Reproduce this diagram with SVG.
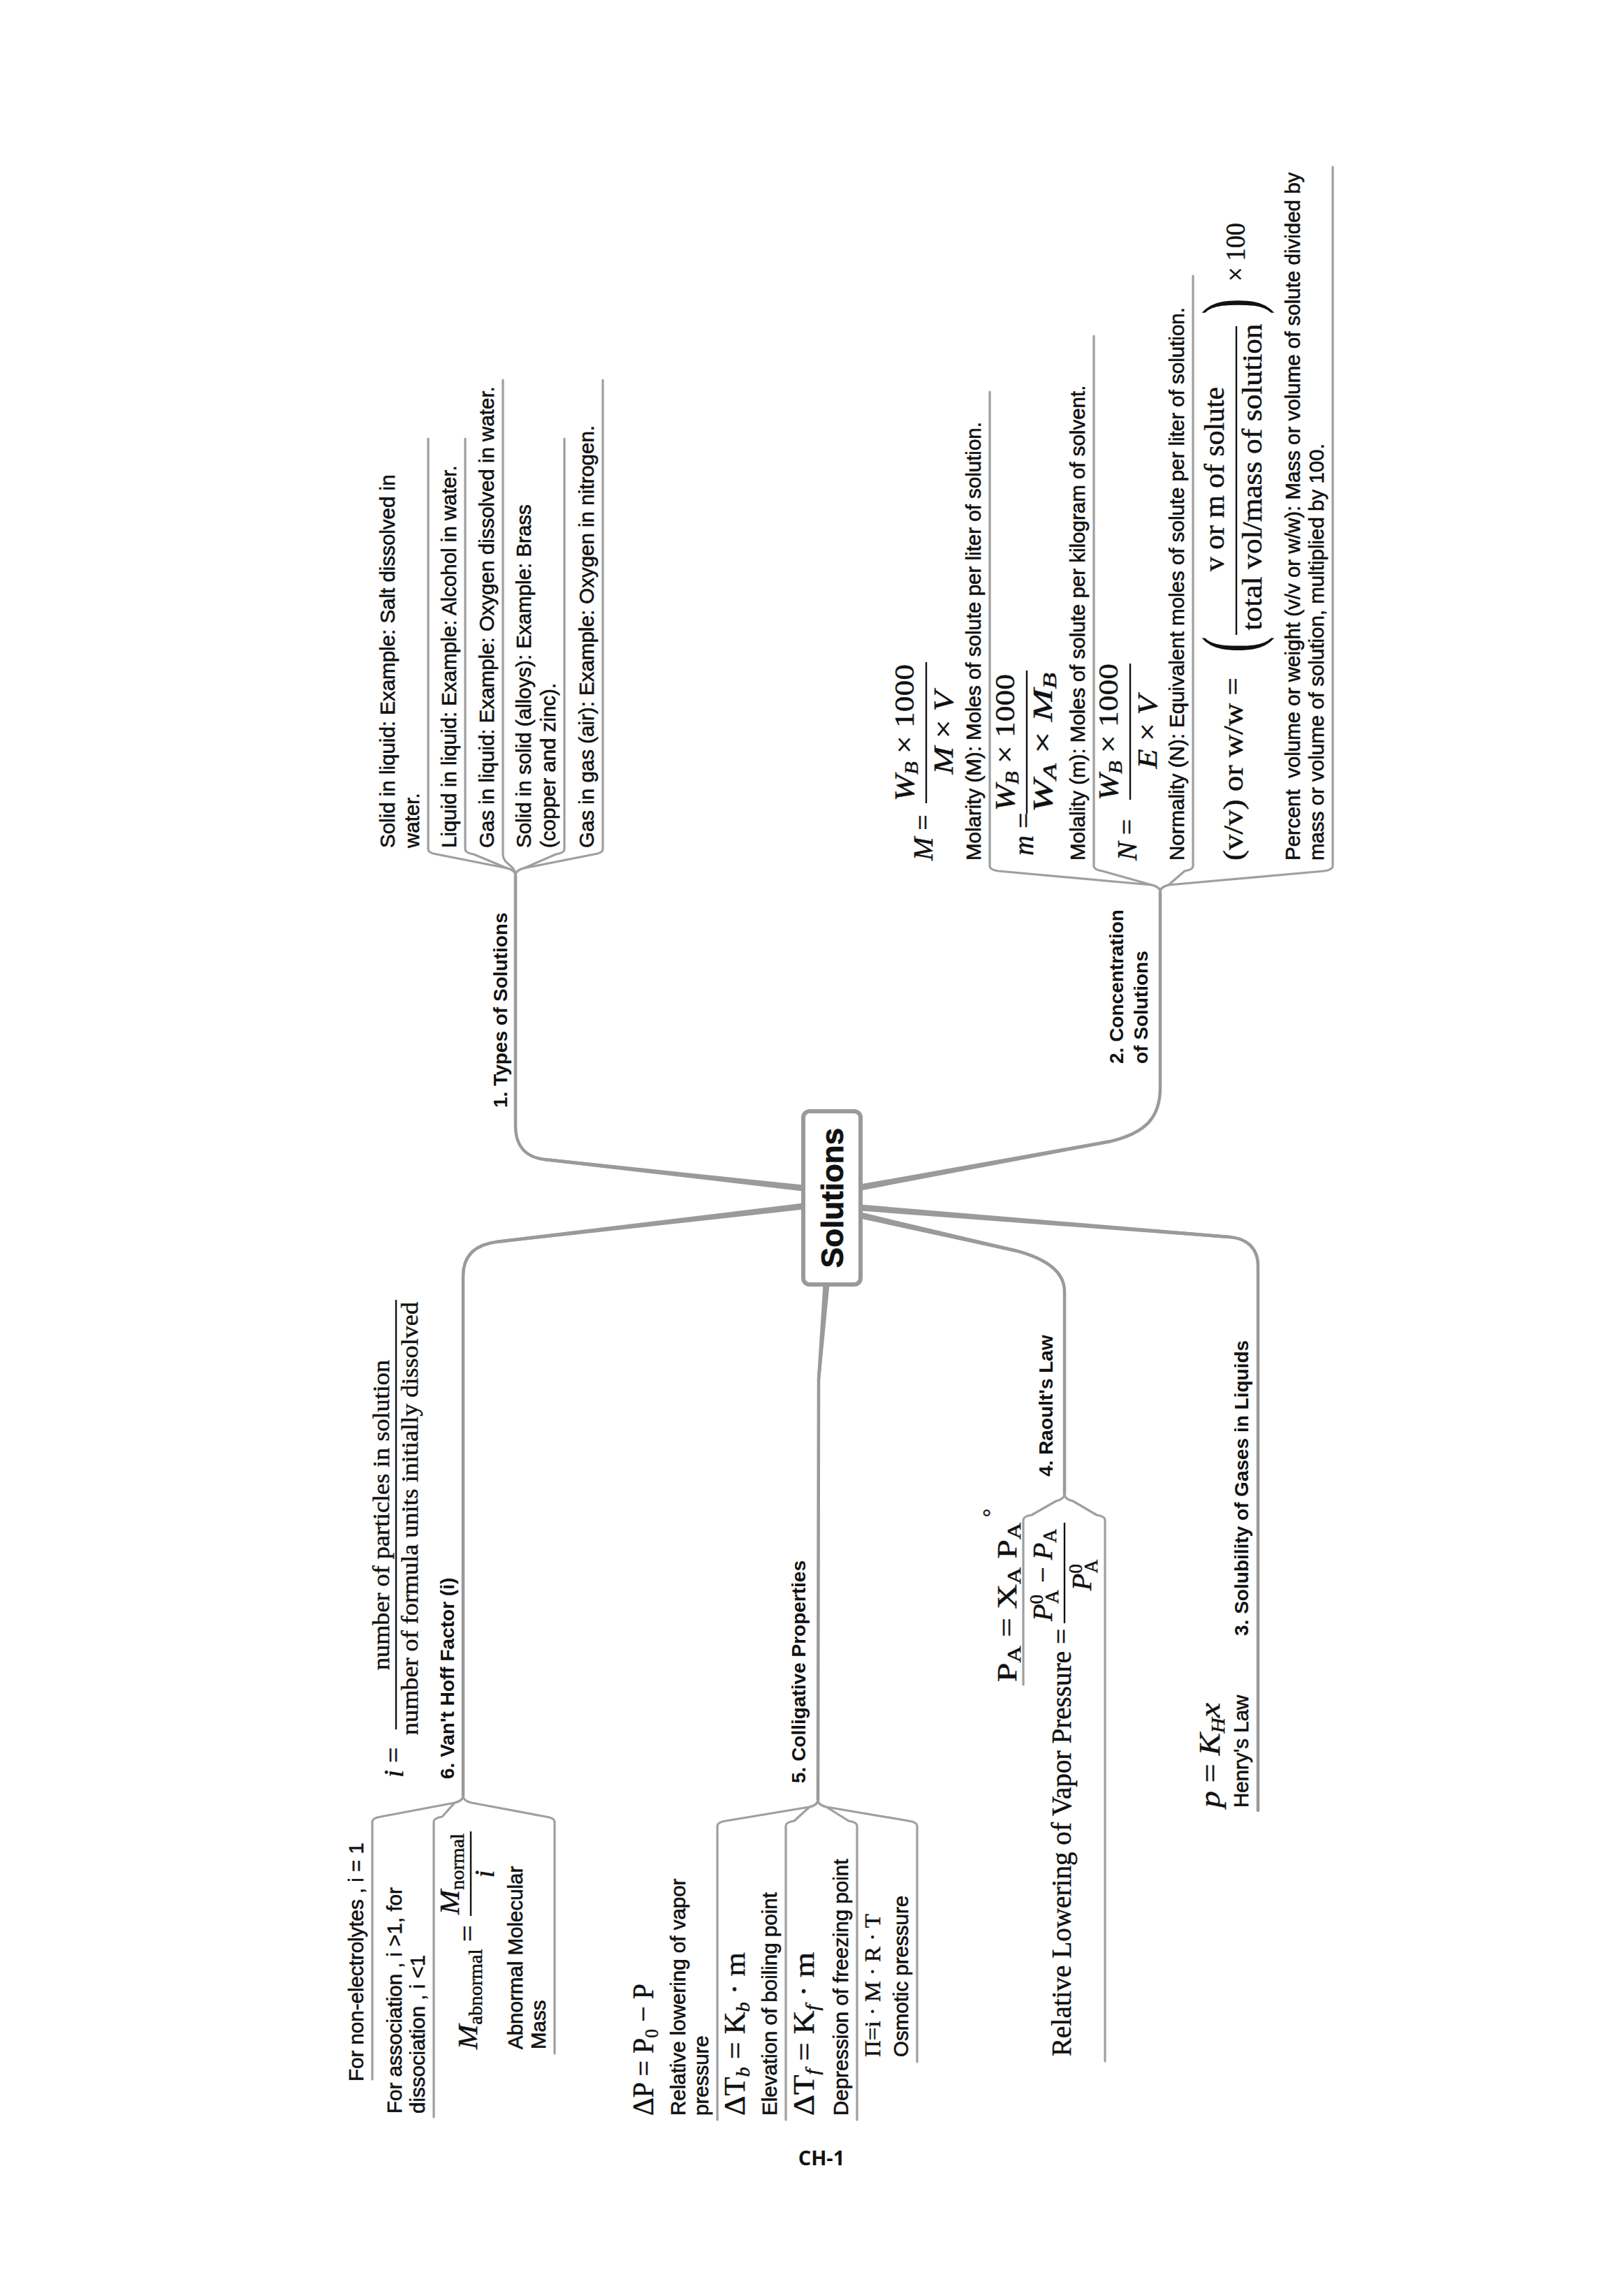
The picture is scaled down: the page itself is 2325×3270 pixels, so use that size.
<svg xmlns="http://www.w3.org/2000/svg" width="2325" height="3270" viewBox="0 0 2325 3270">
<style>
.t{font-family:"Liberation Sans",Arial,sans-serif;font-size:29.5px;fill:#111;stroke:#111;stroke-width:0.6}
.b{font-family:"Liberation Sans",Arial,sans-serif;font-size:28px;font-weight:bold;fill:#111}
.m{font-family:"Liberation Serif","Times New Roman",serif;font-size:40px;fill:#111;stroke:#111;stroke-width:0.5}
.i{font-style:italic}
.s{font-size:27px}
.ln{fill:none;stroke:#9f9f9f;stroke-width:3.2;stroke-linecap:round;stroke-linejoin:round}
.br{fill:none;stroke:#9a9a9a;stroke-width:4.5;stroke-linecap:round;stroke-linejoin:round}
.tp{fill:#9a9a9a}
.bar{stroke:#111;stroke-width:2.4}
</style>
<rect width="2325" height="3270" fill="#fff"/>
<g id="connectors">
<path class="br" d="M1150,1701 L780,1660 C752,1657 738,1640 738,1612 L738,1253"/>
<polygon class="tp" points="1150.5,1696.5 780.2,1657.8 779.8,1662.2 1149.5,1705.5"/>
<path class="br" d="M1150,1727 L711,1778 C680,1782 663,1797 663,1827 L663,2571"/>
<polygon class="tp" points="1149.5,1722.5 710.7,1775.8 711.3,1780.2 1150.5,1731.5"/>
<path class="br" d="M1232,1700 L1590,1634 C1640,1622 1661,1600 1661,1557 L1661,1277"/>
<polygon class="tp" points="1231.2,1695.6 1589.6,1631.8 1590.4,1636.2 1232.8,1704.4"/>
<path class="br" d="M1232,1729 L1760,1771 C1785,1773 1801,1787 1801,1812 L1801,2592"/>
<polygon class="tp" points="1232.4,1724.5 1760.2,1768.8 1759.8,1773.2 1231.6,1733.5"/>
<path class="br" d="M1232,1740 L1456,1791 C1500,1803 1524,1822 1524,1849 L1524,2139"/>
<polygon class="tp" points="1233,1735.6 1456.5,1788.8 1455.5,1793.2 1231,1744.4"/>
<path class="br" d="M1183,1839 L1172,1975 L1171,2577"/>
<polygon class="tp" points="1178.5,1838.6 1169.8,1974.8 1174.2,1975.2 1187.5,1839.4"/>
<path class="ln" d="M613,628 L613,1216 Q613,1221 625,1223 L726,1243 Q738,1246 738,1253"/>
<path class="ln" d="M666,628 L666,1216 Q666,1221 678,1223 L726,1243 Q738,1246 738,1253"/>
<path class="ln" d="M720,544 L720,1223 C720,1238 738,1238 738,1253"/>
<path class="ln" d="M808,628 L808,1216 Q808,1221 796,1223 L750,1243 Q738,1246 738,1253"/>
<path class="ln" d="M863,544 L863,1216 Q863,1221 851,1223 L750,1243 Q738,1246 738,1253"/>
<path class="ln" d="M1417,561 L1417,1240 Q1417,1245 1429,1247 L1649,1267 Q1661,1270 1661,1277"/>
<path class="ln" d="M1566,481 L1566,1240 Q1566,1245 1578,1247 L1649,1267 Q1661,1270 1661,1277"/>
<path class="ln" d="M1708,395 L1708,1240 Q1708,1245 1696,1247 L1673,1267 Q1661,1270 1661,1277"/>
<path class="ln" d="M1908,239 L1908,1240 Q1908,1245 1896,1247 L1673,1267 Q1661,1270 1661,1277"/>
<path class="ln" d="M1465,2412 L1465,2176 Q1465,2171 1477,2169 L1512,2149 Q1524,2146 1524,2139"/>
<path class="ln" d="M1582,2951 L1582,2176 Q1582,2171 1570,2169 L1536,2149 Q1524,2146 1524,2139"/>
<path class="ln" d="M1027,3035 L1027,2614 Q1027,2609 1039,2607 L1159,2587 Q1171,2584 1171,2577"/>
<path class="ln" d="M1125,3035 L1125,2614 Q1125,2609 1137,2607 L1159,2587 Q1171,2584 1171,2577"/>
<path class="ln" d="M1227,3035 L1227,2614 Q1227,2609 1215,2607 L1183,2587 Q1171,2584 1171,2577"/>
<path class="ln" d="M1313,2952 L1313,2614 Q1313,2609 1301,2607 L1183,2587 Q1171,2584 1171,2577"/>
<path class="ln" d="M533,2977 L533,2608 Q533,2603 545,2601 L651,2581 Q663,2578 663,2571"/>
<path class="ln" d="M621,3031 L621,2608 Q621,2603 633,2601 L651,2581 Q663,2578 663,2571"/>
<path class="ln" d="M794,2940 L794,2608 Q794,2603 782,2601 L675,2581 Q663,2578 663,2571"/>
</g>
<g transform="matrix(0,-1,1,0,0,3270)">
<g id="center">
<rect x="1431" y="1150" width="248" height="82" rx="9" fill="#fff" stroke="#9a9a9a" stroke-width="6"/>
<text x="1555" y="1207" text-anchor="middle" style="font-family:'Liberation Sans',Arial,sans-serif;font-weight:bold;font-size:44px;fill:#111;stroke:#111;stroke-width:0.8">Solutions</text>
</g>
<g id="types">
<text class="b" x="1684" y="726">1. Types of Solutions</text>
</g>
<g id="types-c1"><text class="t" x="2056" y="565">Solid in liquid: Example: Salt dissolved in</text><text class="t" x="2056" y="600">water.</text></g>
<g id="types-c2"><text class="t" x="2056" y="653">Liquid in liquid: Example: Alcohol in water.</text></g>
<g id="types-c3"><text class="t" x="2056" y="707">Gas in liquid: Example: Oxygen dissolved in water.</text></g>
<g id="types-c4"><text class="t" x="2056" y="760">Solid in solid (alloys): Example: Brass</text><text class="t" x="2056" y="795">(copper and zinc).</text></g>
<g id="types-c5"><text class="t" x="2056" y="850">Gas in gas (air): Example: Oxygen in nitrogen.</text></g>

<g id="concentration">
<text class="b" x="1747" y="1608">2. Concentration</text>
<text class="b" x="1747" y="1643">of Solutions</text>
</g>
<g id="conc-c1">
<text class="m" x="2038" y="1335"><tspan class="i">M</tspan> =</text>
<text class="m" x="2221" y="1308" text-anchor="middle" textLength="196" lengthAdjust="spacingAndGlyphs"><tspan class="i">W</tspan><tspan class="s i" dy="6">B</tspan><tspan dy="-6"> × 1000</tspan></text>
<line class="bar" x1="2120" y1="1326" x2="2322" y2="1326"/>
<text class="m" x="2221" y="1364" text-anchor="middle" textLength="119" lengthAdjust="spacingAndGlyphs"><tspan class="i">M</tspan> × <tspan class="i">V</tspan></text>
<text class="t" x="2038" y="1404">Molarity (M): Moles of solute per liter of solution.</text>
</g>
<g id="conc-c2">
<text class="m" x="2045" y="1479"><tspan class="i">m</tspan> =</text>
<text class="m" x="2207" y="1452" text-anchor="middle" textLength="196" lengthAdjust="spacingAndGlyphs"><tspan class="i">W</tspan><tspan class="s i" dy="6">B</tspan><tspan dy="-6"> × 1000</tspan></text>
<line class="bar" x1="2105" y1="1470" x2="2310" y2="1470"/>
<text class="m" x="2207" y="1506" text-anchor="middle" textLength="200" lengthAdjust="spacingAndGlyphs"><tspan class="i">W</tspan><tspan class="s i" dy="6">A</tspan><tspan dy="-6"> × </tspan><tspan class="i">M</tspan><tspan class="s i" dy="6">B</tspan></text>
<text class="t" x="2038" y="1553">Molality (m): Moles of solute per kilogram of solvent.</text>
</g>
<g id="conc-c3">
<text class="m" x="2038" y="1627"><tspan class="i">N</tspan> =</text>
<text class="m" x="2222" y="1600" text-anchor="middle" textLength="196" lengthAdjust="spacingAndGlyphs"><tspan class="i">W</tspan><tspan class="s i" dy="6">B</tspan><tspan dy="-6"> × 1000</tspan></text>
<line class="bar" x1="2125" y1="1618" x2="2320" y2="1618"/>
<text class="m" x="2222" y="1656" text-anchor="middle" textLength="105" lengthAdjust="spacingAndGlyphs"><tspan class="i">E</tspan> × <tspan class="i">V</tspan></text>
<text class="t" x="2038" y="1695">Normality (N): Equivalent moles of solute per liter of solution.</text>
</g>
<g id="conc-c4">
<text class="m" x="2038" y="1779" textLength="262" lengthAdjust="spacingAndGlyphs">(v/v) or w/w =</text>
<text class="m" transform="translate(2336,1800) scale(0.6,1)" style="font-size:114px;stroke-width:0">(</text>
<text class="m" x="2584" y="1752" text-anchor="middle" textLength="264" lengthAdjust="spacingAndGlyphs">v or m of solute</text>
<line class="bar" x1="2361" y1="1770" x2="2803" y2="1770"/>
<text class="m" x="2587" y="1806" text-anchor="middle" textLength="439" lengthAdjust="spacingAndGlyphs">total vol/mass of solution</text>
<text class="m" transform="translate(2820,1800) scale(0.6,1)" style="font-size:114px;stroke-width:0">)</text>
<text class="m" x="2867" y="1782" textLength="84" lengthAdjust="spacingAndGlyphs">× 100</text>
<text class="t" x="2038" y="1861">Percent&#160; volume or weight (v/v or w/w): Mass or volume of solute divided by</text>
<text class="t" x="2038" y="1895">mass or volume of solution, multiplied by 100.</text>
</g>

<g id="solubility">
<text class="b" x="928" y="1787">3. Solubility of Gases in Liquids</text>
</g>
<g id="henry">
<text class="m" x="682" y="1746" textLength="150" lengthAdjust="spacingAndGlyphs" style="font-size:42px"><tspan class="i">p</tspan> = <tspan class="i">K</tspan><tspan class="s i" dy="7">H</tspan><tspan class="i" dy="-7">x</tspan></text>
<text class="t" x="682" y="1787">Henry's Law</text>
</g>

<g id="raoult">
<text class="b" x="1156" y="1507">4. Raoult's Law</text>
</g>
<g id="raoult-c1">
<text class="m" x="862" y="1455" textLength="228" lengthAdjust="spacingAndGlyphs">P<tspan class="s" dy="6">A</tspan><tspan dy="-6"> = X</tspan><tspan class="s" dy="6">A</tspan><tspan dy="-6"> P</tspan><tspan class="s" dy="6">A</tspan></text>
<text class="m" x="1098" y="1428" style="font-size:30px">°</text>
</g>
<g id="raoult-c2">
<text class="m" x="326" y="1533" textLength="612" lengthAdjust="spacingAndGlyphs">Relative Lowering of Vapor Pressure =</text>
<text class="m" x="1015" y="1506" text-anchor="middle" textLength="132" lengthAdjust="spacingAndGlyphs"><tspan class="i">P</tspan><tspan class="s" dy="-13">0</tspan><tspan class="s" dx="-13" dy="22">A</tspan><tspan dy="-9"> − </tspan><tspan class="i">P</tspan><tspan class="s" dy="6">A</tspan></text>
<line class="bar" x1="946" y1="1524" x2="1090" y2="1524"/>
<text class="m" x="1015" y="1562" text-anchor="middle"><tspan class="i">P</tspan><tspan class="s" dy="-13">0</tspan><tspan class="s" dx="-13" dy="22">A</tspan></text>
</g>

<g id="colligative">
<text class="b" x="717" y="1153">5. Colligative Properties</text>
</g>
<g id="coll-c1">
<text class="m" x="241" y="935" textLength="189" lengthAdjust="spacingAndGlyphs" style="font-size:42px">ΔP = P<tspan class="s" dy="7">0</tspan><tspan dy="-7"> − P</tspan></text>
<text class="t" x="241" y="981">Relative lowering of vapor</text>
<text class="t" x="241" y="1014">pressure</text>
</g>
<g id="coll-c2">
<text class="m" x="241" y="1066" textLength="234" lengthAdjust="spacingAndGlyphs" style="font-size:42px">ΔT<tspan class="s i" dy="7">b</tspan><tspan dy="-7"> = K</tspan><tspan class="s i" dy="7">b</tspan><tspan dy="-7"> · m</tspan></text>
<text class="t" x="241" y="1112">Elevation of boiling point</text>
</g>
<g id="coll-c3">
<text class="m" x="241" y="1165" textLength="234" lengthAdjust="spacingAndGlyphs" style="font-size:42px">ΔT<tspan class="s i" dy="7">f</tspan><tspan dy="-7"> = K</tspan><tspan class="s i" dy="7">f</tspan><tspan dy="-7"> · m</tspan></text>
<text class="t" x="241" y="1214">Depression of freezing point</text>
</g>
<g id="coll-c4">
<text class="m" x="325" y="1260" textLength="205" lengthAdjust="spacingAndGlyphs" style="font-size:32px">Π=i · M · R · T</text>
<text class="t" x="325" y="1300">Osmotic pressure</text>
</g>

<g id="vanthoff">
<text class="m" x="725" y="577"><tspan class="i">i</tspan> =</text>
<text class="m" x="1101" y="557" text-anchor="middle" textLength="444" lengthAdjust="spacingAndGlyphs" style="font-size:34px">number of particles in solution</text>
<line class="bar" x1="794" y1="567" x2="1409" y2="567"/>
<text class="m" x="1096" y="598" text-anchor="middle" textLength="620" lengthAdjust="spacingAndGlyphs" style="font-size:34px">number of formula units initially dissolved</text>
<text class="b" x="723" y="650">6. Van't Hoff Factor (i)</text>
</g>
<g id="vh-c1"><text class="t" x="290" y="520">For non-electrolytes , i = 1</text></g>
<g id="vh-c2"><text class="t" x="244" y="575">For association , i &gt;1, for</text><text class="t" x="244" y="608">dissociation , i &lt;1</text></g>
<g id="vh-c3">
<text class="m" x="336" y="683" textLength="178" lengthAdjust="spacingAndGlyphs"><tspan class="i">M</tspan><tspan class="s" dy="7">abnormal</tspan><tspan dy="-7"> =</tspan></text>
<text class="m" x="587" y="657" text-anchor="middle" textLength="116" lengthAdjust="spacingAndGlyphs"><tspan class="i">M</tspan><tspan class="s" dy="7">normal</tspan></text>
<line class="bar" x1="527" y1="674" x2="648" y2="674"/>
<text class="m i" x="587" y="707" text-anchor="middle">i</text>
<text class="t" x="336" y="748">Abnormal Molecular</text>
<text class="t" x="336" y="781">Mass</text>
</g>
</g>
<g id="footer">
<text x="1176" y="3100" text-anchor="middle" style="font-family:'Open Sans','Noto Sans',sans-serif;font-weight:bold;font-size:29px;fill:#111">CH-1</text>
</g>
</svg>
